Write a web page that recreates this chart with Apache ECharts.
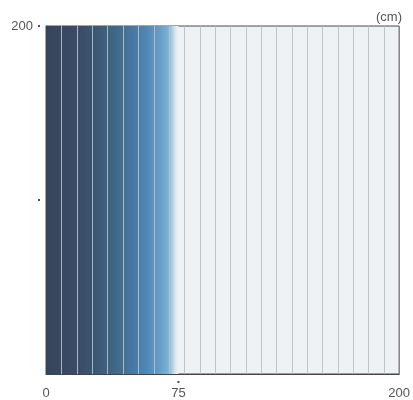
<!DOCTYPE html>
<html>
<head>
<meta charset="utf-8">
<script src="https://cdn.jsdelivr.net/npm/echarts@6/dist/echarts.min.js"></script>
<style>html,body{margin:0;padding:0;background:#fff}#c{width:413px;height:400px}</style>
</head>
<body>
<div id="c"></div>
<script>
// Data
var fillLevel = 75;               // cm, coloured (filled) region from 0 to here
var xTickLabels = [0, 75, 200];
var yTickLabels = [200];
var yDots = [200, 100];
var xDots = [75];
var stripeEdges = [8.7, 17.4, 26.1, 34.8, 43.5, 52.2, 60.9, 69.6, 78.3, 87.0, 95.7,
  104.3, 113.0, 121.7, 130.4, 139.1, 147.8, 156.5, 165.2, 173.9, 182.6, 191.3];
var gradientPos = [0, 0.06, 0.17, 0.29, 0.41, 0.52, 0.64, 0.76, 0.87, 0.92, 0.95, 0.98, 1];
var gradientColors = ['#36445b', '#38465f', '#3a4863', '#3b4f6b', '#3c5c77', '#3f6886',
  '#4676a0', '#5087b5', '#69a1ca', '#7ab1d5', '#a9cde2', '#dfeaf0', '#eef2f3'];

var chart = echarts.init(document.getElementById('c'), null, {renderer: 'canvas'});
var txt = {color: '#555', fontSize: 13, fontFamily: 'Liberation Sans, Arial, sans-serif'};
chart.setOption({
  animation: false,
  title: {text: '(cm)', right: 6, top: 6, textStyle: Object.assign({fontWeight: 'normal'}, txt)},
  grid: {left: 46, right: 11, top: 26, bottom: 26, show: true, backgroundColor: '#eef2f3',
    borderColor: '#4a4a4a', borderWidth: 1},
  xAxis: {type: 'value', min: 0, max: 200,
    axisLine: {show: true, onZero: false, lineStyle: {color: '#444'}},
    axisTick: {show: false}, splitLine: {show: false},
    axisLabel: Object.assign({customValues: xTickLabels, margin: 13}, txt)},
  yAxis: {type: 'value', min: 0, max: 200,
    axisLine: {show: true, onZero: false, lineStyle: {color: '#2c3848'}},
    axisTick: {show: false}, splitLine: {show: false},
    axisLabel: Object.assign({customValues: yTickLabels, margin: 13}, txt)},
  series: [
    {type: 'custom', data: [[0, fillLevel]], clip: true, z: 1,
      renderItem: function (params, api) {
        var p0 = api.coord([api.value(0), 200]);
        var p1 = api.coord([api.value(1), 0]);
        var stops = gradientPos.map(function (o, i) { return {offset: o, color: gradientColors[i]}; });
        return {type: 'rect', shape: {x: p0[0], y: p0[1], width: p1[0] - p0[0], height: p1[1] - p0[1]},
          style: {fill: new echarts.graphic.LinearGradient(0, 0, 1, 0, stops)}};
      }},
    {type: 'custom', data: stripeEdges.map(function (v) { return [v]; }), z: 2,
      renderItem: function (params, api) {
        var a = api.coord([api.value(0), 0]);
        var b = api.coord([api.value(0), 200]);
        var x = Math.round(a[0]) + 0.5;
        return {type: 'line', shape: {x1: x, y1: a[1], x2: x, y2: b[1]},
          style: {stroke: 'rgba(185,192,198,0.9)', lineWidth: 1}};
      }},
    {type: 'scatter', data: yDots.map(function (v) { return [0, v]; }), symbol: 'rect', symbolSize: 2,
      symbolOffset: [-7, 0], clip: false, itemStyle: {color: '#222'}, silent: true, z: 5},
    {type: 'scatter', data: xDots.map(function (v) { return [v, 0]; }), symbol: 'rect', symbolSize: 2,
      symbolOffset: [0, 8], clip: false, itemStyle: {color: '#222'}, silent: true, z: 5}
  ]
});
</script>
</body>
</html>
